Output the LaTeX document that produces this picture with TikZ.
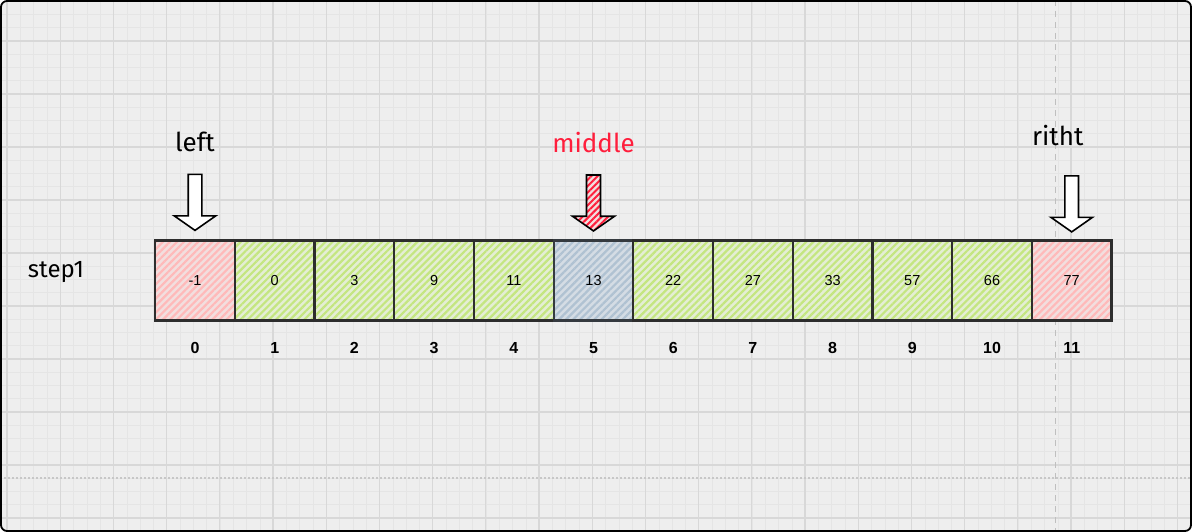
\documentclass[tikz,border=0pt]{standalone}
\usepackage{fontspec}
\setmainfont{Liberation Sans}
\newfontfamily\handfont{Fira Sans}
\usetikzlibrary{shapes.arrows, patterns.meta, positioning}
\definecolor{paper_bg}{RGB}{238, 238, 238}
\definecolor{paper_minor}{RGB}{229, 229, 229}
\definecolor{paper_major}{RGB}{216, 216, 216}
\definecolor{cell_line}{RGB}{45, 45, 45}
\definecolor{red_bg}{RGB}{242, 222, 222}
\definecolor{red_hatch}{RGB}{255, 185, 185}
\definecolor{green_bg}{RGB}{228, 238, 212}
\definecolor{green_hatch}{RGB}{196, 230, 128}
\definecolor{blue_bg}{RGB}{212, 220, 228}
\definecolor{blue_hatch}{RGB}{176, 194, 210}
\definecolor{mid_red}{RGB}{255, 30, 60}
\tikzstyle{cellbox} = [rectangle, minimum width=79.7pt, minimum height=80pt, draw=cell_line, line width=2.2pt, font=\fontsize{14.5}{16}\selectfont]
\tikzstyle{boundcell} = [cellbox, preaction={fill=red_bg}, pattern={Lines[angle=45, distance=5pt, line width=2.2pt]}, pattern color=red_hatch]
\tikzstyle{plaincell} = [cellbox, preaction={fill=green_bg}, pattern={Lines[angle=45, distance=5pt, line width=2.2pt]}, pattern color=green_hatch]
\tikzstyle{midcell} = [cellbox, draw=black!70!blue_hatch, preaction={fill=blue_bg}, pattern={Lines[angle=45, distance=5pt, line width=2.2pt]}, pattern color=blue_hatch]
\tikzstyle{idx} = [font=\bfseries\fontsize{16}{18}\selectfont]
\tikzstyle{tag} = [font=\handfont\fontsize{26}{28}\selectfont]
\tikzstyle{pointer} = [single arrow, shape border rotate=270, draw=black, line width=1.6pt, fill=white, inner sep=6pt, minimum height=56pt, single arrow head extend=14pt, single arrow tip angle=110, single arrow head indent=0pt]

\begin{document}
\begin{tikzpicture}[x=1pt, y=-1pt, node distance=79.7pt]
    \useasboundingbox (0,0) rectangle (1192,532);
    % grid paper
    \begin{scope}
        \clip[rounded corners=6pt] (1,1) rectangle (1191,531);
        \fill[paper_bg] (0,0) rectangle (1192,532);
        \foreach \x in {7.3,20.6,...,1192} \draw[paper_minor, line width=1pt] (\x,0) -- (\x,532);
        \foreach \y in {1.25,14.5,...,532} \draw[paper_minor, line width=1pt] (0,\y) -- (1192,\y);
        \foreach \x in {7,60.2,...,1192} \draw[paper_major, line width=1.3pt] (\x,0) -- (\x,532);
        \foreach \y in {41,94,...,532} \draw[paper_major, line width=1.3pt] (0,\y) -- (1192,\y);
        \draw[black!25, line width=1pt, dash pattern=on 6pt off 5pt] (1055,0) -- (1055,532);
        \draw[black!22, line width=1.5pt, dash pattern=on 2pt off 2pt] (0,478) -- (1192,478);
    \end{scope}
    \draw[black, line width=1.8pt, rounded corners=6pt] (1,1) rectangle (1191,531);

    % array cells
    \node (cell0) [boundcell] at (195,280.5) {-1};
    \node (cell1) [plaincell, right of=cell0] {0};
    \node (cell2) [plaincell, right of=cell1] {3};
    \node (cell3) [plaincell, right of=cell2] {9};
    \node (cell4) [plaincell, right of=cell3] {11};
    \node (cell5) [midcell, right of=cell4] {13};
    \node (cell6) [plaincell, right of=cell5] {22};
    \node (cell7) [plaincell, right of=cell6] {27};
    \node (cell8) [plaincell, right of=cell7] {33};
    \node (cell9) [plaincell, right of=cell8] {57};
    \node (cell10) [plaincell, right of=cell9] {66};
    \node (cell11) [boundcell, right of=cell10] {77};

    % indexes
    \node (idx0) [idx, node distance=67.5pt, below of=cell0] {0};
    \node (idx1) [idx, node distance=67.5pt, below of=cell1] {1};
    \node (idx2) [idx, node distance=67.5pt, below of=cell2] {2};
    \node (idx3) [idx, node distance=67.5pt, below of=cell3] {3};
    \node (idx4) [idx, node distance=67.5pt, below of=cell4] {4};
    \node (idx5) [idx, node distance=67.5pt, below of=cell5] {5};
    \node (idx6) [idx, node distance=67.5pt, below of=cell6] {6};
    \node (idx7) [idx, node distance=67.5pt, below of=cell7] {7};
    \node (idx8) [idx, node distance=67.5pt, below of=cell8] {8};
    \node (idx9) [idx, node distance=67.5pt, below of=cell9] {9};
    \node (idx10) [idx, node distance=67.5pt, below of=cell10] {10};
    \node (idx11) [idx, node distance=67.5pt, below of=cell11] {11};

    % pointers
    \node (leftptr) [pointer, node distance=80.5pt, above of=cell0] {};
    \node (midptr) [pointer, node distance=80pt, above of=cell5, fill=none, preaction={fill=red_bg}, pattern={Lines[angle=45, distance=4.5pt, line width=2pt]}, pattern color=mid_red] {};
    \node (rightptr) [pointer, node distance=79pt, above of=cell11] {};

    \node (lefttag) [tag, node distance=58pt, above of=leftptr] {left};
    \node (midtag) [tag, node distance=58pt, above of=midptr, text=mid_red] {middle};
    \node (righttag) [tag, node distance=66pt, above of=rightptr, xshift=-14pt] {ritht};
    \node (steptag) [tag, node distance=139pt, left of=cell0, yshift=8pt, font=\handfont\fontsize{24}{26}\selectfont] {step1};
\end{tikzpicture}
\end{document}
